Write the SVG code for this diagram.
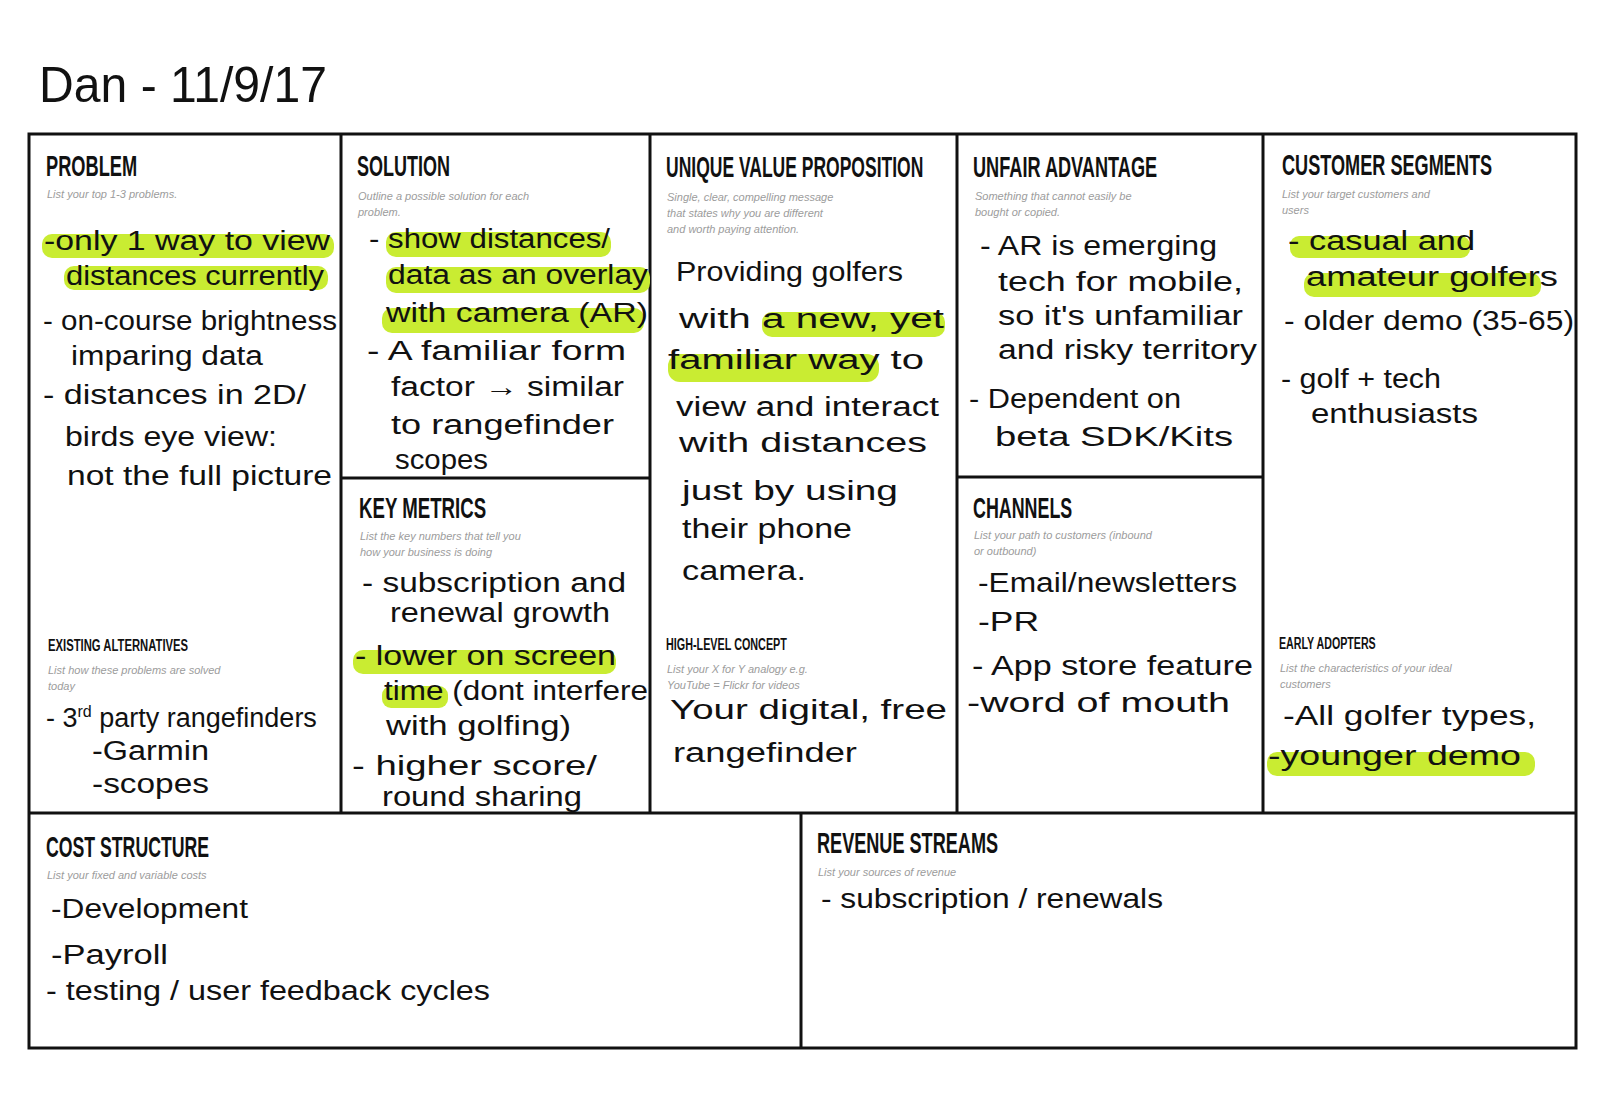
<svg xmlns="http://www.w3.org/2000/svg" width="1600" height="1111" viewBox="0 0 1600 1111">
<style>
.frame line, .frame rect {stroke:#111; stroke-width:3; fill:none}
.h {font-family:"Liberation Sans", Arial, sans-serif; font-weight:bold; font-size:29px; fill:#111}
.hs {font-family:"Liberation Sans", Arial, sans-serif; font-weight:bold; font-size:17px; fill:#111}
.sub {font-family:"Liberation Sans", Arial, sans-serif; font-style:italic; font-size:11px; fill:#9c9c9c}
.hw {font-family:"Liberation Sans", Arial, sans-serif; font-size:27px; fill:#111}
.hl {fill:#c9ec32}
</style>
<rect width="1600" height="1111" fill="#ffffff"/>
<g id="title"><text class="hw" x="39" y="102" style="font-size:50px" textLength="288" lengthAdjust="spacingAndGlyphs">Dan - 11/9/17</text></g>
<g id="frame" class="frame">
<rect x="29" y="134" width="1547" height="914"/>
<line x1="341" y1="134" x2="341" y2="813"/>
<line x1="650" y1="134" x2="650" y2="813"/>
<line x1="957" y1="134" x2="957" y2="813"/>
<line x1="1263" y1="134" x2="1263" y2="813"/>
<line x1="29" y1="813" x2="1576" y2="813"/>
<line x1="341" y1="478" x2="650" y2="478"/>
<line x1="957" y1="477" x2="1263" y2="477"/>
<line x1="801" y1="813" x2="801" y2="1048"/>
</g>
<g id="problem">
<text class="h" transform="translate(46,176) scale(0.62,1)" textLength="147" lengthAdjust="spacingAndGlyphs">PROBLEM</text>
<text class="sub" x="47" y="198">List your top 1-3 problems.</text>
<rect class="hl" x="42" y="234" width="292" height="24" rx="10"/>
<rect class="hl" x="64" y="266" width="264" height="24" rx="10"/>
<text class="hw" x="44" y="250" textLength="286" lengthAdjust="spacingAndGlyphs">-only 1 way to view</text>
<text class="hw" x="66" y="285" textLength="258" lengthAdjust="spacingAndGlyphs">distances currently</text>
<text class="hw" x="43" y="330" textLength="294" lengthAdjust="spacingAndGlyphs">- on-course brightness</text>
<text class="hw" x="71" y="365" textLength="192" lengthAdjust="spacingAndGlyphs">imparing data</text>
<text class="hw" x="43" y="404" textLength="263" lengthAdjust="spacingAndGlyphs">- distances in 2D/</text>
<text class="hw" x="65" y="446" textLength="212" lengthAdjust="spacingAndGlyphs">birds eye view:</text>
<text class="hw" x="67" y="485" textLength="265" lengthAdjust="spacingAndGlyphs">not the full picture</text>
</g>
<g id="existing-alternatives">
<text class="hs" transform="translate(48,651) scale(0.62,1)" textLength="226" lengthAdjust="spacingAndGlyphs">EXISTING ALTERNATIVES</text>
<text class="sub" x="48" y="674">List how these problems are solved</text>
<text class="sub" x="48" y="690">today</text>
<text class="hw" x="46" y="727">- 3<tspan dy="-10" style="font-size:16px">rd</tspan><tspan dy="10"> party rangefinders</tspan></text>
<text class="hw" x="92" y="760" textLength="117" lengthAdjust="spacingAndGlyphs">-Garmin</text>
<text class="hw" x="92" y="793" textLength="117" lengthAdjust="spacingAndGlyphs">-scopes</text>
</g>
<g id="solution">
<text class="h" transform="translate(357,176) scale(0.62,1)" textLength="150" lengthAdjust="spacingAndGlyphs">SOLUTION</text>
<text class="sub" x="358" y="200">Outline a possible solution for each</text>
<text class="sub" x="358" y="216">problem.</text>
<rect class="hl" x="386" y="232" width="225" height="25" rx="10"/>
<rect class="hl" x="386" y="267" width="264" height="26" rx="10"/>
<rect class="hl" x="382" y="308" width="262" height="25" rx="10"/>
<text class="hw" x="369" y="248" textLength="241" lengthAdjust="spacingAndGlyphs">- show distances/</text>
<text class="hw" x="388" y="284" textLength="260" lengthAdjust="spacingAndGlyphs">data as an overlay</text>
<text class="hw" x="386" y="322" textLength="262" lengthAdjust="spacingAndGlyphs">with camera (AR)</text>
<text class="hw" x="367" y="360" textLength="259" lengthAdjust="spacingAndGlyphs">- A familiar form</text>
<text class="hw" x="391" y="396" textLength="233" lengthAdjust="spacingAndGlyphs">factor → similar</text>
<text class="hw" x="391" y="434" textLength="223" lengthAdjust="spacingAndGlyphs">to rangefinder</text>
<text class="hw" x="395" y="469" textLength="93" lengthAdjust="spacingAndGlyphs">scopes</text>
</g>
<g id="key-metrics">
<text class="h" transform="translate(359,518) scale(0.62,1)" textLength="205" lengthAdjust="spacingAndGlyphs">KEY METRICS</text>
<text class="sub" x="360" y="540">List the key numbers that tell you</text>
<text class="sub" x="360" y="556">how your business is doing</text>
<rect class="hl" x="353" y="650" width="263" height="24" rx="10"/>
<rect class="hl" x="382" y="686" width="66" height="22" rx="9"/>
<text class="hw" x="362" y="592" textLength="264" lengthAdjust="spacingAndGlyphs">- subscription and</text>
<text class="hw" x="390" y="622" textLength="220" lengthAdjust="spacingAndGlyphs">renewal growth</text>
<text class="hw" x="355" y="665" textLength="261" lengthAdjust="spacingAndGlyphs">- lower on screen</text>
<text class="hw" x="384" y="700" textLength="264" lengthAdjust="spacingAndGlyphs">time (dont interfere</text>
<text class="hw" x="386" y="735" textLength="185" lengthAdjust="spacingAndGlyphs">with golfing)</text>
<text class="hw" x="352" y="775" textLength="245" lengthAdjust="spacingAndGlyphs">- higher score/</text>
<text class="hw" x="382" y="806" textLength="200" lengthAdjust="spacingAndGlyphs">round sharing</text>
</g>
<g id="unique-value-proposition">
<text class="h" transform="translate(666,177) scale(0.62,1)" textLength="415" lengthAdjust="spacingAndGlyphs">UNIQUE VALUE PROPOSITION</text>
<text class="sub" x="667" y="201">Single, clear, compelling message</text>
<text class="sub" x="667" y="217">that states why you are different</text>
<text class="sub" x="667" y="233">and worth paying attention.</text>
<rect class="hl" x="762" y="312" width="183" height="25" rx="10"/>
<rect class="hl" x="668" y="354" width="211" height="28" rx="12"/>
<text class="hw" x="676" y="281" textLength="227" lengthAdjust="spacingAndGlyphs">Providing golfers</text>
<text class="hw" x="679" y="328" textLength="265" lengthAdjust="spacingAndGlyphs">with a new, yet</text>
<text class="hw" x="668" y="369" textLength="256" lengthAdjust="spacingAndGlyphs">familiar way to</text>
<text class="hw" x="676" y="416" textLength="263" lengthAdjust="spacingAndGlyphs">view and interact</text>
<text class="hw" x="679" y="452" textLength="248" lengthAdjust="spacingAndGlyphs">with distances</text>
<text class="hw" x="682" y="500" textLength="216" lengthAdjust="spacingAndGlyphs">just by using</text>
<text class="hw" x="682" y="538" textLength="170" lengthAdjust="spacingAndGlyphs">their phone</text>
<text class="hw" x="682" y="580" textLength="124" lengthAdjust="spacingAndGlyphs">camera.</text>
</g>
<g id="high-level-concept">
<text class="hs" transform="translate(666,650) scale(0.62,1)" textLength="195" lengthAdjust="spacingAndGlyphs">HIGH-LEVEL CONCEPT</text>
<text class="sub" x="667" y="673">List your X for Y analogy e.g.</text>
<text class="sub" x="667" y="689">YouTube = Flickr for videos</text>
<text class="hw" x="670" y="719" textLength="277" lengthAdjust="spacingAndGlyphs">Your digital, free</text>
<text class="hw" x="673" y="762" textLength="184" lengthAdjust="spacingAndGlyphs">rangefinder</text>
</g>
<g id="unfair-advantage">
<text class="h" transform="translate(973,177) scale(0.62,1)" textLength="297" lengthAdjust="spacingAndGlyphs">UNFAIR ADVANTAGE</text>
<text class="sub" x="975" y="200">Something that cannot easily be</text>
<text class="sub" x="975" y="216">bought or copied.</text>
<text class="hw" x="980" y="255" textLength="237" lengthAdjust="spacingAndGlyphs">- AR is emerging</text>
<text class="hw" x="998" y="291" textLength="245" lengthAdjust="spacingAndGlyphs">tech for mobile,</text>
<text class="hw" x="998" y="325" textLength="245" lengthAdjust="spacingAndGlyphs">so it's unfamiliar</text>
<text class="hw" x="998" y="359" textLength="259" lengthAdjust="spacingAndGlyphs">and risky territory</text>
<text class="hw" x="969" y="408" textLength="212" lengthAdjust="spacingAndGlyphs">- Dependent on</text>
<text class="hw" x="995" y="446" textLength="238" lengthAdjust="spacingAndGlyphs">beta SDK/Kits</text>
</g>
<g id="channels">
<text class="h" transform="translate(973,518) scale(0.62,1)" textLength="160" lengthAdjust="spacingAndGlyphs">CHANNELS</text>
<text class="sub" x="974" y="539">List your path to customers (inbound</text>
<text class="sub" x="974" y="555">or outbound)</text>
<text class="hw" x="978" y="592" textLength="259" lengthAdjust="spacingAndGlyphs">-Email/newsletters</text>
<text class="hw" x="978" y="631" textLength="61" lengthAdjust="spacingAndGlyphs">-PR</text>
<text class="hw" x="972" y="675" textLength="281" lengthAdjust="spacingAndGlyphs">- App store feature</text>
<text class="hw" x="967" y="712" textLength="263" lengthAdjust="spacingAndGlyphs">-word of mouth</text>
</g>
<g id="customer-segments">
<text class="h" transform="translate(1282,175) scale(0.62,1)" textLength="339" lengthAdjust="spacingAndGlyphs">CUSTOMER SEGMENTS</text>
<text class="sub" x="1282" y="198">List your target customers and</text>
<text class="sub" x="1282" y="214">users</text>
<rect class="hl" x="1290" y="236" width="180" height="22" rx="9"/>
<rect class="hl" x="1304" y="273" width="237" height="24" rx="10"/>
<text class="hw" x="1288" y="250" textLength="187" lengthAdjust="spacingAndGlyphs">- casual and</text>
<text class="hw" x="1306" y="286" textLength="252" lengthAdjust="spacingAndGlyphs">amateur golfers</text>
<text class="hw" x="1284" y="330" textLength="290" lengthAdjust="spacingAndGlyphs">- older demo (35-65)</text>
<text class="hw" x="1281" y="388" textLength="160" lengthAdjust="spacingAndGlyphs">- golf + tech</text>
<text class="hw" x="1311" y="423" textLength="167" lengthAdjust="spacingAndGlyphs">enthusiasts</text>
</g>
<g id="early-adopters">
<text class="hs" transform="translate(1279,649) scale(0.62,1)" textLength="156" lengthAdjust="spacingAndGlyphs">EARLY ADOPTERS</text>
<text class="sub" x="1280" y="672">List the characteristics of your ideal</text>
<text class="sub" x="1280" y="688">customers</text>
<rect class="hl" x="1267" y="752" width="268" height="24" rx="10"/>
<text class="hw" x="1283" y="725" textLength="253" lengthAdjust="spacingAndGlyphs">-All golfer types,</text>
<text class="hw" x="1268" y="765" textLength="253" lengthAdjust="spacingAndGlyphs">-younger demo</text>
</g>
<g id="cost-structure">
<text class="h" transform="translate(46,857) scale(0.62,1)" textLength="263" lengthAdjust="spacingAndGlyphs">COST STRUCTURE</text>
<text class="sub" x="47" y="879">List your fixed and variable costs</text>
<text class="hw" x="51" y="918" textLength="197" lengthAdjust="spacingAndGlyphs">-Development</text>
<text class="hw" x="51" y="964" textLength="117" lengthAdjust="spacingAndGlyphs">-Payroll</text>
<text class="hw" x="46" y="1000" textLength="444" lengthAdjust="spacingAndGlyphs">- testing / user feedback cycles</text>
</g>
<g id="revenue-streams">
<text class="h" transform="translate(817,853) scale(0.62,1)" textLength="292" lengthAdjust="spacingAndGlyphs">REVENUE STREAMS</text>
<text class="sub" x="818" y="876">List your sources of revenue</text>
<text class="hw" x="821" y="908" textLength="342" lengthAdjust="spacingAndGlyphs">- subscription / renewals</text>
</g>
</svg>
